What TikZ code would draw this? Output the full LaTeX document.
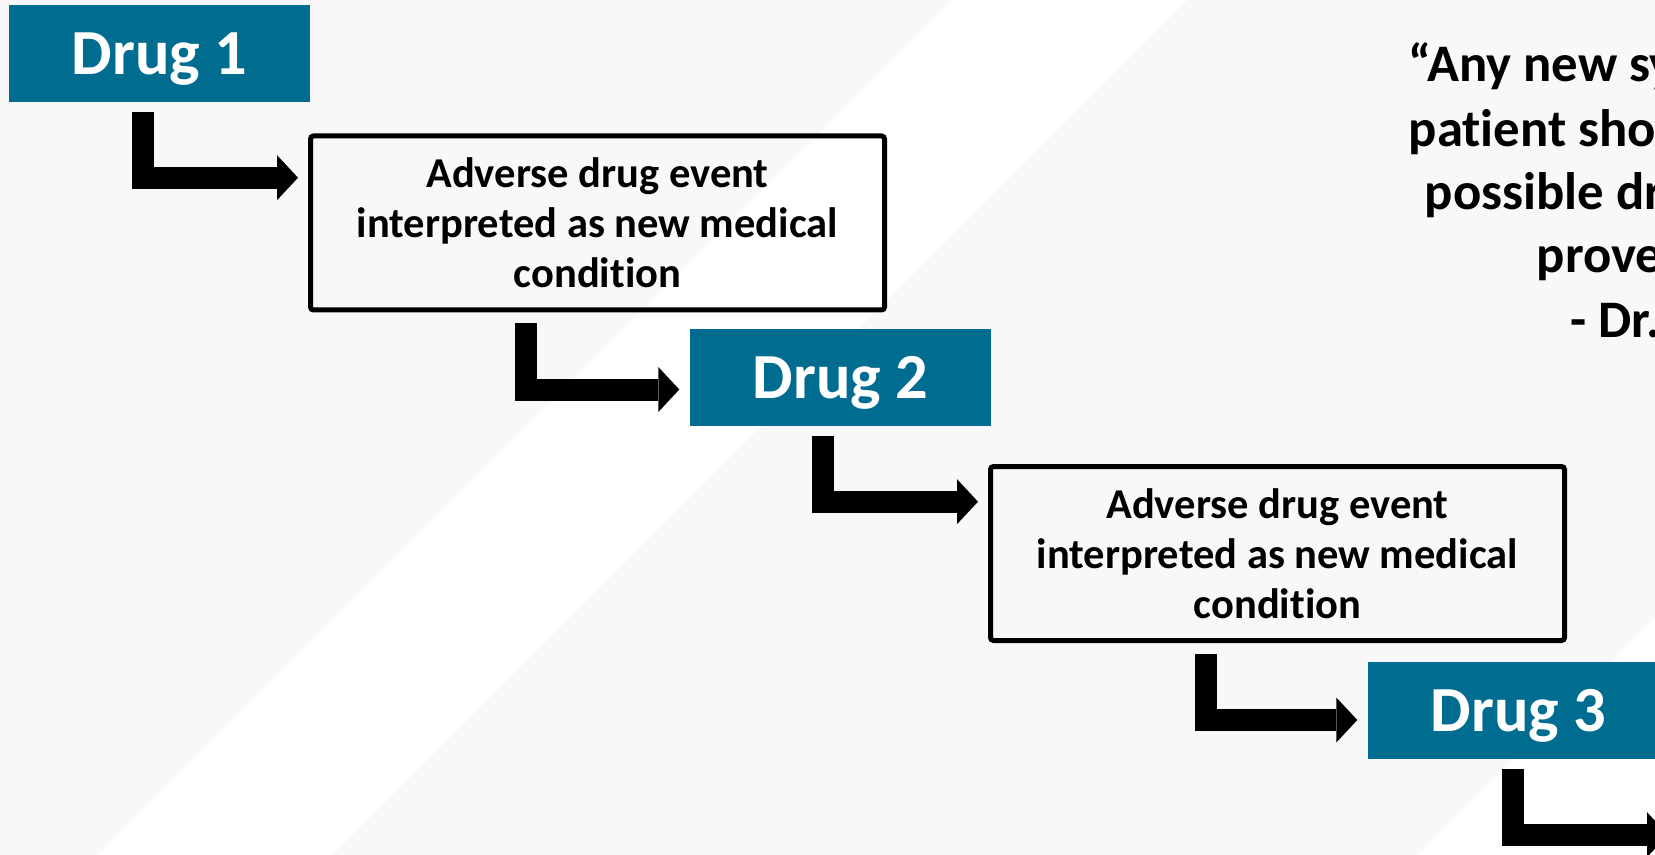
\documentclass[tikz,border=0pt]{standalone}
\usepackage{fontspec}
\setmainfont[Ligatures={NoCommon}]{Carlito}
\usetikzlibrary{arrows.meta,calc}
\definecolor{drugblue}{HTML}{006D90}
\definecolor{bgpale}{HTML}{F8F8F8}

\begin{document}
\begin{tikzpicture}[
    drugbox/.style={fill=drugblue,text=white,minimum width=3.01cm,minimum height=.97cm,inner sep=0pt,
      font=\fontsize{18.3}{22}\selectfont\bfseries,text height=11.8pt,text depth=0pt},
    adebox/.style={draw=black,line width=.5mm,rounded corners=.3mm,minimum width=5.74cm,minimum height=1.74cm,
      inner sep=0pt,align=center,font=\fontsize{12.1}{14.2}\selectfont\bfseries},
    quoteline/.style={anchor=base west,inner sep=0pt,font=\fontsize{15}{18}\selectfont\bfseries},
    elbow/.style={line width=.22cm,line join=miter,shorten >=1mm,
      -{Triangle[length=2.1mm,width=4.5mm,line width=0pt]}}
  ]
    \useasboundingbox (0,0) rectangle (16.55,-8.55);
    \clip (0,0) rectangle (16.55,-8.55);
    % background with the pale diagonal bands
    \fill[bgpale] (0,0) rectangle (16.55,-8.55);
    \fill[white] (9.53,0) -- (11.87,0) -- (3.32,-8.55) -- (0.98,-8.55) -- cycle;
    \fill[white] (16.55,-6.18) -- (16.55,-8.55) -- (14.18,-8.55) -- cycle;

    % the cascade
    \node[drugbox] (drug1) at (1.595,-.535) {Drug 1};
    \node[adebox] (ade1) at (5.975,-2.23) {Adverse drug event\\interpreted as new medical\\condition};
    \node[drugbox] (drug2) at (8.405,-3.775) {Drug 2};
    \node[adebox] (ade2) at (12.775,-5.535) {Adverse drug event\\interpreted as new medical\\condition};
    \node[drugbox] (drug3) at (15.185,-7.105) {Drug 3};
    \coordinate (offpage) at (16.78,-8.33);

    \draw[elbow] ($(drug1.south west)+(1.35,-.09)$) -- ++(0,-.66) coordinate (k1) -- (k1 -| ade1.west);
    \draw[elbow] ($(ade1.south west)+(2.18,-.11)$) -- ++(0,-.66) coordinate (k2) -- (k2 -| drug2.west);
    \draw[elbow] ($(drug2.south west)+(1.34,-.09)$) -- ++(0,-.66) coordinate (k3) -- (k3 -| ade2.west);
    \draw[elbow] ($(ade2.south west)+(2.18,-.11)$) -- ++(0,-.66) coordinate (k4) -- (k4 -| drug3.west);
    \draw[elbow] ($(drug3.south west)+(1.455,-.09)$) -- ++(0,-.66) coordinate (k5) -- (k5 -| offpage);

    % quote, cut off at the right edge
    \node[quoteline] (q1) at (14.08,-.82) {“Any new sy};
    \node[quoteline] (q2) at (14.08,-1.47) {patient sho};
    \node[quoteline] (q3) at (14.24,-2.10) {possible dr};
    \node[quoteline] (q4) at (15.36,-2.73) {prove};
    \node[quoteline] (q5) at (15.70,-3.38) {- Dr.};
  \end{tikzpicture}
\end{document}
